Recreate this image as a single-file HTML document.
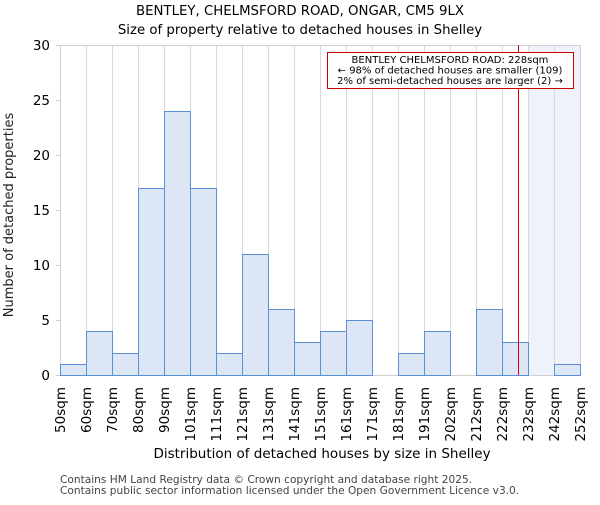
<!DOCTYPE html>
<html><head><meta charset="utf-8"><style>body{margin:0;background:#fff}svg{font-family:"DejaVu Sans","Liberation Sans",sans-serif}</style></head>
<body>
<svg id="c" width="600" height="500" xmlns="http://www.w3.org/2000/svg">
<text x="300" y="15" text-anchor="middle" font-size="13.3" fill="#000">BENTLEY, CHELMSFORD ROAD, ONGAR, CM5 9LX</text>
<text x="300" y="34" text-anchor="middle" font-size="13.3" fill="#000">Size of property relative to detached houses in Shelley</text>
<g id="grid"></g><g id="bars"></g><g id="axes"></g>
<text x="322" y="458" text-anchor="middle" font-size="13.5">Distribution of detached houses by size in Shelley</text>
<text transform="translate(13,215) rotate(-90)" text-anchor="middle" font-size="13" fill="#222">Number of detached properties</text>
<text x="60" y="483" font-size="10.6" fill="#444">Contains HM Land Registry data © Crown copyright and database right 2025.</text>
<text x="60" y="494" font-size="10.6" fill="#444">Contains public sector information licensed under the Open Government Licence v3.0.</text>
</svg>
<script>
const binLabels=["50sqm","60sqm","70sqm","80sqm","90sqm","101sqm","111sqm","121sqm","131sqm","141sqm","151sqm","161sqm","171sqm","181sqm","191sqm","202sqm","212sqm","222sqm","232sqm","242sqm","252sqm"];
const counts=[1,4,2,17,24,17,2,11,6,3,4,5,0,2,4,0,6,3,0,1];
const yTicks=[0,5,10,15,20,25,30];
const markerBin=17.6;
const NS="http://www.w3.org/2000/svg";
const X0=60,X1=580,Y0=375,Y1=45,YMAX=30;
const bw=(X1-X0)/counts.length;
const xs=i=>X0+i*bw;
const ys=v=>Y0-v/YMAX*(Y0-Y1);
const px=v=>Math.round(v)+0.5;
function mk(t,a,p){const e=document.createElementNS(NS,t);for(const k in a)e.setAttribute(k,a[k]);p.appendChild(e);return e;}
const grid=document.getElementById('grid'),bars=document.getElementById('bars'),axes=document.getElementById('axes');
let hl=mk('rect',{x:xs(18),y:Y1,width:X1-xs(18),height:Y0-Y1,fill:'#eef3fb'},grid);


for(let i=0;i<=counts.length;i++){let l=mk('line',{x1:px(xs(i)),x2:px(xs(i)),y1:Y1,y2:Y0,stroke:'#d9d9d9','stroke-width':1},grid);

}
let bd=mk('rect',{x:X0+0.5,y:Y1+0.5,width:X1-X0,height:Y0-Y1,fill:'none',stroke:'#d0d0d0','stroke-width':1},grid);


yTicks.forEach(t=>{let l=mk('line',{x1:X0-4,x2:X0,y1:px(ys(t)),y2:px(ys(t)),stroke:'#ccc','stroke-width':1},grid);


let tx=mk('text',{x:X0-10,y:ys(t)+5,'text-anchor':'end','font-size':13.5},axes);tx.textContent=t;

});
counts.forEach((v,i)=>{if(v<=0)return;let r=mk('rect',{x:px(xs(i)),y:px(ys(v)),width:Math.round(bw),height:Math.round(Y0-ys(v)),fill:'#dce6f4',stroke:'#5b8fd6','stroke-width':1},bars);

});
binLabels.forEach((s,i)=>{let t=mk('text',{transform:`translate(${xs(i)+5},387) rotate(-90)`,'text-anchor':'end','font-size':13.5},axes);t.textContent=s;

});
let mx=px(xs(markerBin));
let ml=mk('line',{x1:mx,x2:mx,y1:Y1,y2:Y0,stroke:'#dd0000','stroke-width':1},axes);


let box=mk('rect',{x:327.5,y:52.5,width:246,height:36,fill:'#fff',stroke:'#cc0000','stroke-width':1},axes);


["BENTLEY CHELMSFORD ROAD: 228sqm","← 98% of detached houses are smaller (109)","2% of semi-detached houses are larger (2) →"].forEach((s,i)=>{let t=mk('text',{x:450,y:63+i*10.5,'text-anchor':'middle','font-size':10},axes);t.textContent=s;

});
</script>
</body></html>
